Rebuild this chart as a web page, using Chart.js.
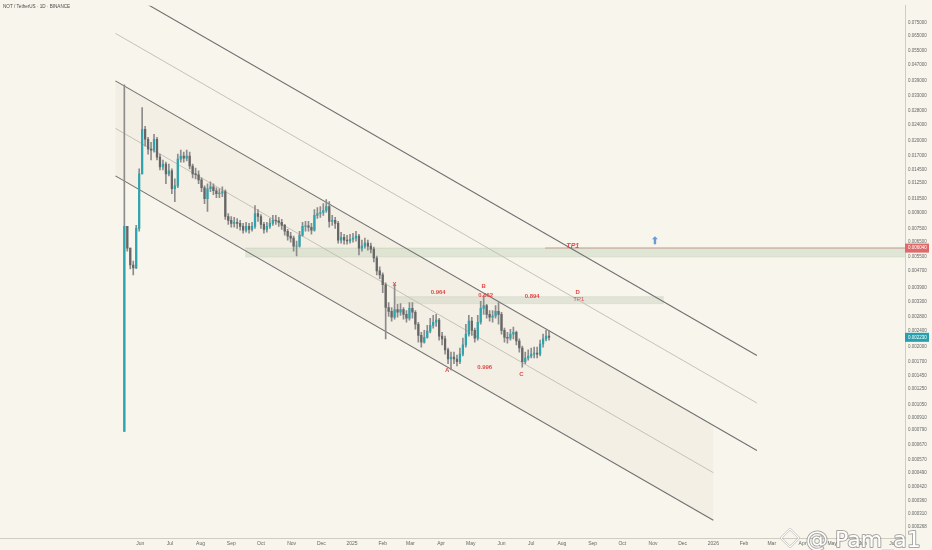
<!DOCTYPE html>
<html>
<head>
<meta charset="utf-8">
<script src="https://cdn.jsdelivr.net/npm/chart.js@4.4.1/dist/chart.umd.min.js"></script>
<style>
  html, body { margin: 0; padding: 0; background: #f7f5ec; }
  canvas { display: block; }
</style>
</head>
<body>
<canvas id="notChart" width="932" height="550"></canvas>
<script>
"use strict";

/* NOT / TetherUS 1D - one candle every 3 days */
var candleDates = [
  '2024-05-16','2024-05-19','2024-05-22','2024-05-25','2024-05-28','2024-05-31','2024-06-03','2024-06-06','2024-06-09','2024-06-12',
  '2024-06-15','2024-06-18','2024-06-21','2024-06-24','2024-06-27','2024-06-30','2024-07-03','2024-07-06','2024-07-09','2024-07-12',
  '2024-07-15','2024-07-18','2024-07-21','2024-07-24','2024-07-27','2024-07-30','2024-08-02','2024-08-05','2024-08-08','2024-08-11',
  '2024-08-14','2024-08-17','2024-08-20','2024-08-23','2024-08-26','2024-08-29','2024-09-01','2024-09-04','2024-09-07','2024-09-10',
  '2024-09-13','2024-09-16','2024-09-19','2024-09-22','2024-09-25','2024-09-28','2024-10-01','2024-10-04','2024-10-07','2024-10-10',
  '2024-10-13','2024-10-16','2024-10-19','2024-10-22','2024-10-25','2024-10-28','2024-10-31','2024-11-03','2024-11-06','2024-11-09',
  '2024-11-12','2024-11-15','2024-11-18','2024-11-21','2024-11-24','2024-11-27','2024-11-30','2024-12-03','2024-12-06','2024-12-09',
  '2024-12-12','2024-12-15','2024-12-18','2024-12-21','2024-12-24','2024-12-27','2024-12-30','2025-01-02','2025-01-05','2025-01-08',
  '2025-01-11','2025-01-14','2025-01-17','2025-01-20','2025-01-23','2025-01-26','2025-01-29','2025-02-01','2025-02-04','2025-02-07',
  '2025-02-10','2025-02-13','2025-02-16','2025-02-19','2025-02-22','2025-02-25','2025-02-28','2025-03-03','2025-03-06','2025-03-09',
  '2025-03-12','2025-03-15','2025-03-18','2025-03-21','2025-03-24','2025-03-27','2025-03-30','2025-04-02','2025-04-05','2025-04-08',
  '2025-04-11','2025-04-14','2025-04-17','2025-04-20','2025-04-23','2025-04-26','2025-04-29','2025-05-02','2025-05-05','2025-05-08',
  '2025-05-11','2025-05-14','2025-05-17','2025-05-20','2025-05-23','2025-05-26','2025-05-29','2025-06-01','2025-06-04','2025-06-07',
  '2025-06-10','2025-06-13','2025-06-16','2025-06-19','2025-06-22','2025-06-25','2025-06-28','2025-07-01','2025-07-04','2025-07-07',
  '2025-07-10','2025-07-13','2025-07-16','2025-07-19'
];
var listingOpen = 0.00078;
var closes = [
  0.00770, 0.00604, 0.00500, 0.00484, 0.00753, 0.01383, 0.02274, 0.02036, 0.01823, 0.01803,
  0.02036, 0.01669, 0.01494, 0.01545, 0.01383, 0.01430, 0.01172, 0.01211, 0.01632, 0.01688,
  0.01651, 0.01688, 0.01511, 0.01383, 0.01370, 0.01294, 0.01185, 0.01049, 0.01172, 0.01198,
  0.01146, 0.01109, 0.01115, 0.01134, 0.00860, 0.00823, 0.00796, 0.00805, 0.00796, 0.00770,
  0.00737, 0.00770, 0.00745, 0.00770, 0.00889, 0.00860, 0.00787, 0.00745, 0.00770, 0.00796,
  0.00823, 0.00818, 0.00805, 0.00779, 0.00729, 0.00690, 0.00675, 0.00617, 0.00617, 0.00697,
  0.00770, 0.00775, 0.00762, 0.00737, 0.00870, 0.00889, 0.00899, 0.00919, 0.00961, 0.00814,
  0.00823, 0.00796, 0.00660, 0.00682, 0.00660, 0.00655, 0.00667, 0.00675, 0.00690, 0.00604,
  0.00617, 0.00638, 0.00617, 0.00597, 0.00541, 0.00468, 0.00448, 0.00401, 0.00311, 0.00298,
  0.00279, 0.00304, 0.00295, 0.00304, 0.00288, 0.00276, 0.00308, 0.00295, 0.00258, 0.00228,
  0.00211, 0.00223, 0.00239, 0.00255, 0.00264, 0.00270, 0.00226, 0.00219, 0.00194, 0.00175,
  0.00179, 0.00175, 0.00170, 0.00185, 0.00205, 0.00231, 0.00267, 0.00241, 0.00221, 0.00264,
  0.00308, 0.00318, 0.00288, 0.00279, 0.00283, 0.00298, 0.00288, 0.00241, 0.00223, 0.00221,
  0.00231, 0.00236, 0.00214, 0.00198, 0.00170, 0.00177, 0.00181, 0.00185, 0.00187, 0.00185,
  0.00207, 0.00219, 0.00226, 0.00223
];
var highs = [
  0.0374, 0.00770, 0.00604, 0.00523, 0.00779, 0.01462, 0.0290, 0.02351, 0.02082, 0.01970,
  0.02152, 0.02082, 0.01725, 0.01615, 0.01579, 0.01545, 0.01462, 0.01309, 0.01725, 0.01803,
  0.01764, 0.01803, 0.01764, 0.01545, 0.01478, 0.01430, 0.01323, 0.01211, 0.01239, 0.01266,
  0.01239, 0.01185, 0.01172, 0.01198, 0.01159, 0.00889, 0.00860, 0.00851, 0.00841, 0.00823,
  0.00796, 0.00805, 0.00796, 0.00805, 0.00971, 0.00929, 0.00879, 0.00805, 0.00805, 0.00841,
  0.00870, 0.00870, 0.00851, 0.00832, 0.00787, 0.00745, 0.00721, 0.00690, 0.00653, 0.00729,
  0.00805, 0.00814, 0.00814, 0.00796, 0.00929, 0.00950, 0.00961, 0.00993, 0.01038, 0.01015,
  0.00870, 0.00851, 0.00814, 0.00721, 0.00705, 0.00697, 0.00705, 0.00713, 0.00729, 0.00705,
  0.00660, 0.00675, 0.00660, 0.00638, 0.00611, 0.00553, 0.00490, 0.00458, 0.00410, 0.00329,
  0.00311, 0.00401, 0.00322, 0.00325, 0.00311, 0.00301, 0.00329, 0.00329, 0.00301, 0.00264,
  0.00236, 0.00241, 0.00255, 0.00276, 0.00285, 0.00288, 0.00276, 0.00236, 0.00226, 0.00198,
  0.00189, 0.00189, 0.00183, 0.00198, 0.00221, 0.00258, 0.00285, 0.00279, 0.00247, 0.00285,
  0.00333, 0.00355, 0.00322, 0.00301, 0.00301, 0.00318, 0.00329, 0.00295, 0.00247, 0.00236,
  0.00244, 0.00250, 0.00239, 0.00219, 0.00202, 0.00189, 0.00194, 0.00198, 0.00200, 0.00200,
  0.00216, 0.00231, 0.00241, 0.00241
];
var lows = [
  0.00078, 0.00584, 0.00479, 0.00448, 0.00480, 0.00729, 0.01383, 0.01885, 0.01725, 0.01615,
  0.01764, 0.01615, 0.01446, 0.01446, 0.01239, 0.01353, 0.01109, 0.01015, 0.01185, 0.01579,
  0.01579, 0.01597, 0.01462, 0.01323, 0.01309, 0.01239, 0.01134, 0.00993, 0.00909, 0.01134,
  0.01097, 0.01061, 0.01061, 0.01073, 0.00832, 0.00787, 0.00762, 0.00762, 0.00753, 0.00737,
  0.00713, 0.00721, 0.00713, 0.00729, 0.00753, 0.00814, 0.00753, 0.00713, 0.00721, 0.00753,
  0.00779, 0.00787, 0.00770, 0.00745, 0.00697, 0.00660, 0.00645, 0.00584, 0.00553, 0.00611,
  0.00690, 0.00729, 0.00729, 0.00705, 0.00729, 0.00841, 0.00851, 0.00870, 0.00899, 0.00762,
  0.00779, 0.00753, 0.00638, 0.00638, 0.00631, 0.00631, 0.00638, 0.00645, 0.00653, 0.00559,
  0.00584, 0.00604, 0.00591, 0.00572, 0.00517, 0.00448, 0.00429, 0.00367, 0.00219, 0.00282,
  0.00267, 0.00273, 0.00279, 0.00285, 0.00273, 0.00264, 0.00270, 0.00276, 0.00244, 0.00211,
  0.00200, 0.00209, 0.00221, 0.00234, 0.00247, 0.00252, 0.00216, 0.00205, 0.00185, 0.00166,
  0.00155, 0.00166, 0.00162, 0.00166, 0.00181, 0.00200, 0.00226, 0.00228, 0.00211, 0.00216,
  0.00258, 0.00288, 0.00276, 0.00267, 0.00264, 0.00276, 0.00258, 0.00231, 0.00211, 0.00209,
  0.00216, 0.00219, 0.00205, 0.00189, 0.00160, 0.00166, 0.00173, 0.00177, 0.00177, 0.00177,
  0.00181, 0.00200, 0.00214, 0.00216
];

/* descending channel drawn on the chart (5 parallel lines) */
var channelStart = '2024-05-07';
var channelEnd = '2026-02-14';
var channelEndShort = '2026-01-01';
var channelStartPrices = [0.11289, 0.06643, 0.03909, 0.02300, 0.01353];
var channelEndPrices = [0.0018198, 0.0010706, 0.00062983, 0.00049173, 0.00028936];
var shadeTopEnd = 0.000836;

/* horizontal zones */
var bandStart = '2024-09-15', bandEnd = '2026-07-31';
var bandTop = 0.00604, bandBottom = 0.00547;
var tpLineStart = '2025-07-15';
var zoneStart = '2025-02-13', zoneEnd = '2025-11-12';
var zoneTop = 0.00351, zoneBottom = 0.00325;

/* wave notes */
var noteTexts = ['X', '0.964', 'B', '0.862', '0.894', 'D', 'TP1', 'TP1', 'A', '0.996', 'C'];
var noteDates = ['2025-02-13', '2025-03-29', '2025-05-14', '2025-05-16', '2025-07-02', '2025-08-17',
                 '2025-08-18', '2025-08-12', '2025-04-07', '2025-05-15', '2025-06-21'];
var notePrices = [0.00401, 0.00367, 0.00392, 0.00355, 0.00351, 0.00367, 0.00341, 0.00617, 0.00155, 0.00159, 0.00147];
var arrowDate = '2025-11-03', arrowPrice = 0.00660;

/* axis ticks */
var monthTickDates = ['2024-06-01','2024-07-01','2024-08-01','2024-09-01','2024-10-01','2024-11-01','2024-12-01',
  '2025-01-01','2025-02-01','2025-03-01','2025-04-01','2025-05-01','2025-06-01','2025-07-01','2025-08-01',
  '2025-09-01','2025-10-01','2025-11-01','2025-12-01','2026-01-01','2026-02-01','2026-03-01','2026-04-01',
  '2026-05-01','2026-06-01','2026-07-01'];
var monthTickLabels = ['Jun','Jul','Aug','Sep','Oct','Nov','Dec','2025','Feb','Mar','Apr','May','Jun','Jul',
  'Aug','Sep','Oct','Nov','Dec','2026','Feb','Mar','Apr','May','Jun','Jul'];
var priceTicks = [0.075, 0.065, 0.055, 0.047, 0.039, 0.033, 0.028, 0.024, 0.020, 0.017, 0.0145, 0.0125,
  0.0105, 0.009, 0.0075, 0.0065, 0.0055, 0.0047, 0.0039, 0.0033, 0.0028, 0.0024, 0.0020, 0.0017,
  0.00145, 0.00125, 0.00105, 0.00091, 0.00079, 0.00067, 0.00057, 0.00049, 0.00042, 0.00036, 0.00031, 0.000268];

function dayOf(s) {
  var p = s.split('-');
  return (Date.UTC(+p[0], +p[1] - 1, +p[2]) - Date.UTC(2025, 0, 1)) / 86400000;
}

var upColor = '#2ea4ae', downColor = '#666666', wickColor = '#8c8c8c';
var candleDays = candleDates.map(dayOf);
var opens = [listingOpen].concat(closes.slice(0, -1));

var bodyData = candleDays.map(function(d, i) { return {x: d, y: [opens[i], closes[i]]}; });
var wickData = candleDays.map(function(d, i) { return {x: d, y: [lows[i], highs[i]]}; });
var bodyColors = closes.map(function(c, i) { return c >= opens[i] ? upColor : downColor; });

function seg(d0, p0, d1, p1) {
  return [{x: dayOf(d0), y: p0}, {x: dayOf(d1), y: p1}];
}
function lineSet(data, color, width, order, extra) {
  var ds = {
    type: 'line', data: data, borderColor: color, borderWidth: width,
    pointRadius: 0, tension: 0, fill: false, order: order
  };
  for (var k in extra) ds[k] = extra[k];
  return ds;
}

var datasets = [
  // faint shading inside lower half of the channel
  lineSet(seg(channelStart, channelStartPrices[2], channelEndShort, shadeTopEnd), 'rgba(0,0,0,0)', 0, 5,
    {fill: '+1', backgroundColor: 'rgba(232,190,168,0.11)'}),
  lineSet(seg(channelStart, channelStartPrices[4], channelEndShort, channelEndPrices[4]), '#707070', 1.1, 2),
  // TP band
  lineSet(seg(bandStart, bandTop, bandEnd, bandTop), 'rgba(175,190,168,0.6)', 0.6, 3,
    {fill: '+1', backgroundColor: 'rgba(192,210,184,0.42)'}),
  lineSet(seg(bandStart, bandBottom, bandEnd, bandBottom), 'rgba(175,190,168,0.5)', 0.5, 3),
  lineSet(seg(tpLineStart, bandTop, bandEnd, bandTop), 'rgba(214,98,98,0.8)', 1, 3),
  lineSet(seg(zoneStart, zoneTop, zoneEnd, zoneTop), 'rgba(185,190,175,0.6)', 0.5, 3,
    {fill: '+1', backgroundColor: 'rgba(206,212,196,0.5)'}),
  lineSet(seg(zoneStart, zoneBottom, zoneEnd, zoneBottom), 'rgba(185,190,175,0.6)', 0.5, 3),
  // channel lines
  lineSet(seg(channelStart, channelStartPrices[0], channelEnd, channelEndPrices[0]), '#707070', 1.1, 2),
  lineSet(seg(channelStart, channelStartPrices[1], channelEnd, channelEndPrices[1]), '#c0bcb1', 0.9, 2),
  lineSet(seg(channelStart, channelStartPrices[2], channelEnd, channelEndPrices[2]), '#707070', 1.1, 2),
  lineSet(seg(channelStart, channelStartPrices[3], channelEndShort, channelEndPrices[3]), '#c0bcb1', 0.9, 2),
  // candles
  {
    type: 'bar', data: wickData, backgroundColor: wickColor, barThickness: 1,
    grouped: false, borderWidth: 0, order: 1
  },
  {
    type: 'bar', data: bodyData, backgroundColor: bodyColors, barThickness: 1.6,
    grouped: false, borderWidth: 0, order: 0
  }
];

var chartDecor = {
  id: 'chartDecor',
  beforeDraw: function(chart) {
    var ctx = chart.ctx;
    ctx.save();
    ctx.fillStyle = '#f7f5ec';
    ctx.fillRect(0, 0, chart.width, chart.height);
    ctx.restore();
  },
  afterDatasetsDraw: function(chart) {
    var ctx = chart.ctx, xs = chart.scales.x, ys = chart.scales.y;
    ctx.save();
    ctx.textAlign = 'center';
    ctx.textBaseline = 'middle';
    noteTexts.forEach(function(t, i) {
      var px = xs.getPixelForValue(dayOf(noteDates[i]));
      var py = ys.getPixelForValue(notePrices[i]);
      ctx.fillStyle = '#e04b4b';
      if (t === 'TP1' && notePrices[i] > 0.005) {
        ctx.font = 'italic bold 7px "Liberation Sans"';
      } else if (t === 'TP1') {
        ctx.font = '6px "Liberation Sans"';
      } else {
        ctx.font = 'bold 6px "Liberation Sans"';
      }
      ctx.fillText(t, px, py);
    });
    // small blue arrow
    var ax = xs.getPixelForValue(dayOf(arrowDate)), ay = ys.getPixelForValue(arrowPrice);
    ctx.fillStyle = 'rgba(86,146,214,0.9)';
    ctx.beginPath();
    ctx.moveTo(ax, ay - 4);
    ctx.lineTo(ax + 3, ay - 1);
    ctx.lineTo(ax + 1.2, ay - 1);
    ctx.lineTo(ax + 1.2, ay + 4);
    ctx.lineTo(ax - 1.2, ay + 4);
    ctx.lineTo(ax - 1.2, ay - 1);
    ctx.lineTo(ax - 3, ay - 1);
    ctx.closePath();
    ctx.fill();
    ctx.restore();
  },
  afterDraw: function(chart) {
    var ctx = chart.ctx, ys = chart.scales.y, area = chart.chartArea;
    ctx.save();
    // title
    ctx.fillStyle = '#4a4a4a';
    ctx.font = '4.6px "Liberation Sans"';
    ctx.textAlign = 'left';
    ctx.textBaseline = 'middle';
    ctx.fillText('NOT / TetherUS \u00b7 1D \u00b7 BINANCE', 3, 7);
    // price tags on the axis
    function tag(value, color) {
      var py = ys.getPixelForValue(value);
      ctx.fillStyle = color;
      ctx.fillRect(area.right, py - 4.5, 24, 9);
      ctx.fillStyle = '#ffffff';
      ctx.font = '4.5px "Liberation Sans"';
      ctx.fillText(value.toFixed(6), area.right + 3, py);
    }
    tag(bandTop, '#e06a6a');
    tag(closes[closes.length - 1], '#26a0b0');
    // author watermark
    ctx.lineJoin = 'round';
    ctx.strokeStyle = 'rgba(80,80,80,0.45)';
    ctx.lineWidth = 2;
    ctx.beginPath();
    ctx.moveTo(790, 529); ctx.lineTo(799, 538); ctx.lineTo(790, 547); ctx.lineTo(781, 538); ctx.closePath();
    ctx.stroke();
    ctx.strokeStyle = '#ffffff';
    ctx.lineWidth = 1.2;
    ctx.stroke();
    ctx.font = '22px "DejaVu Sans"';
    ctx.textBaseline = 'alphabetic';
    ctx.strokeStyle = 'rgba(70,70,70,0.45)';
    ctx.lineWidth = 2;
    ctx.strokeText('@ Pam_a1', 806, 547);
    ctx.fillStyle = '#ffffff';
    ctx.fillText('@ Pam_a1', 806, 547);
    ctx.restore();
  }
};

var ctx = document.getElementById('notChart').getContext('2d');
var notChart = new Chart(ctx, {
  type: 'bar',
  data: { datasets: datasets },
  options: {
    responsive: false,
    devicePixelRatio: 1,
    animation: false,
    events: [],
    layout: { padding: 0 },
    plugins: { legend: { display: false }, tooltip: { enabled: false } },
    scales: {
      x: {
        type: 'linear',
        offset: false,
        bounds: 'data',
        min: -355.6,
        max: 558.6,
        grid: { display: false, drawTicks: false },
        border: { display: true, color: '#cfccc0', width: 1 },
        ticks: {
          autoSkip: false, maxRotation: 0, padding: 3,
          color: '#666', font: { family: 'Liberation Sans', size: 5 },
          callback: function(v, i) { return monthTickLabels[i]; }
        },
        afterBuildTicks: function(scale) {
          scale.ticks = monthTickDates.map(function(s) { return {value: dayOf(s)}; });
        },
        afterFit: function(scale) { scale.height = 12; }
      },
      y: {
        type: 'logarithmic',
        position: 'right',
        bounds: 'data',
        min: 0.00023717,
        max: 0.0905,
        grid: { display: false, drawTicks: false },
        border: { display: true, color: '#cfccc0', width: 1 },
        ticks: {
          autoSkip: false, padding: 3,
          color: '#666', font: { family: 'Liberation Sans', size: 4.5 },
          callback: function(v) { return Number(v).toFixed(6); }
        },
        afterBuildTicks: function(scale) {
          scale.ticks = priceTicks.map(function(v) { return {value: v}; });
        },
        afterFit: function(scale) { scale.width = 27; }
      }
    }
  },
  plugins: [chartDecor]
});
</script>
</body>
</html>
